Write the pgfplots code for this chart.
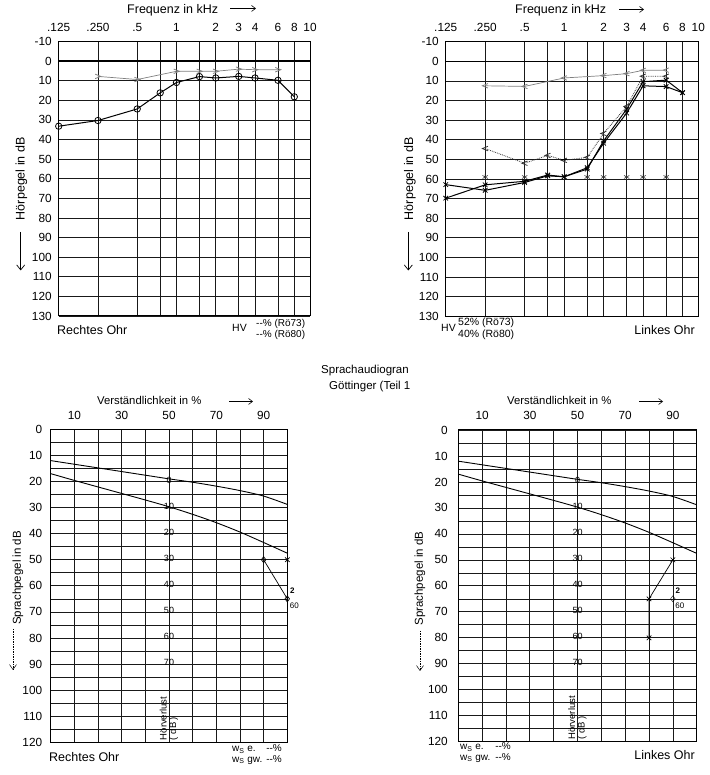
\documentclass[border=0pt]{standalone}
\usepackage{pgfplots}
\pgfplotsset{compat=1.18}
\usepackage{fontspec}
\setmainfont{Liberation Sans}
\usetikzlibrary{arrows.meta}
\newcommand\fs[1]{\fontsize{#1}{#1}\selectfont}

\pgfdeclareplotmark{gt}{%
  \pgfpathmoveto{\pgfqpoint{-\pgfplotmarksize}{0.8\pgfplotmarksize}}%
  \pgfpathlineto{\pgfqpoint{\pgfplotmarksize}{0pt}}%
  \pgfpathlineto{\pgfqpoint{-\pgfplotmarksize}{-0.8\pgfplotmarksize}}%
  \pgfusepathqstroke}
\pgfdeclareplotmark{lt}{%
  \pgfpathmoveto{\pgfqpoint{\pgfplotmarksize}{0.8\pgfplotmarksize}}%
  \pgfpathlineto{\pgfqpoint{-\pgfplotmarksize}{0pt}}%
  \pgfpathlineto{\pgfqpoint{\pgfplotmarksize}{-0.8\pgfplotmarksize}}%
  \pgfusepathqstroke}

\tikzset{hl/.style={font=\fs{9}, inner sep=0pt}}

\pgfplotsset{
  audio/.style={scale only axis, height=274.5pt,
    xmin=0, xmax=6.4, ymin=-10, ymax=130, y dir=reverse,
    xtick={0,1,2,2.585,3,3.585,4,4.585,5,5.585,6,6.4},
    xticklabels={.125,.250,.5,{},1,{},2,3,4,6,8,10},
    xticklabel pos=upper,
    ytick={-10,0,...,130},
    yticklabels={-10,0,10,20,30,40,50,60,70,80,90,100,110,120,130},
    grid=major, major grid style={black!90, line width=0.8pt},
    axis line style={line width=1pt},
    major tick length=0pt, minor tick length=0pt,
    tick label style={font=\fs{11.8}},
    xticklabel shift=6.5pt, yticklabel shift=3.5pt,
    clip=false},
  speech/.style={scale only axis,
    xmin=0, xmax=100, ymin=0, ymax=120, y dir=reverse,
    xtick={0,10,...,100},
    xticklabels={{},10,{},30,{},50,{},70,{},90,{}},
    xticklabel pos=upper,
    ytick={0,10,...,120},
    yticklabels={0,10,20,30,40,50,60,70,80,90,100,110,120},
    minor ytick={5,15,...,115},
    grid=both, major grid style={black!90, line width=0.7pt},
    minor grid style={black!90, line width=0.65pt},
    axis line style={line width=1pt},
    major tick length=0pt, minor tick length=0pt,
    tick label style={font=\fs{11.8}},
    xticklabel shift=6.5pt,
    clip=false},
}

\begin{document}
\begin{tikzpicture}
\useasboundingbox (0pt,0pt) rectangle (709pt,775pt);

% ---------------- top left: Rechtes Ohr ----------------
\begin{axis}[audio, at={(58.7pt,733.5pt)}, anchor=north west, width=251.3pt]
\addplot[line width=1.4pt, forget plot] coordinates {(0,0) (6.4,0)};
\addplot[black!50, line width=0.7pt, mark=gt, mark size=2.8pt, mark options={solid, line width=0.8pt}]
  coordinates {(1,7.8) (2,9.4) (3,5.2) (3.585,5.2) (4,5.2) (4.585,4.1) (5,4.4) (5.585,4.4)};
\addplot[black, line width=1pt, mark=o, mark size=3.2pt, mark options={line width=0.8pt}]
  coordinates {(0,33.2) (1,30.3) (2,24.4) (2.585,16.2) (3,10.9) (3.585,7.9) (4,8.6) (4.585,7.8) (5,8.6) (5.585,9.8) (6,18.2)};
\end{axis}

% ---------------- top right: Linkes Ohr ----------------
\begin{axis}[audio, at={(445.7pt,733.3pt)}, anchor=north west, width=252.6pt]
\addplot[line width=1.4pt, forget plot] coordinates {(0,0) (6.4,0)};
\addplot[black!50, line width=0.7pt, mark=lt, mark size=2.8pt, mark options={solid, line width=0.8pt}]
  coordinates {(1,12.5) (2,12.8) (3,8.5) (4,7.3) (4.585,6.3) (5,4.6) (5.585,4.5)};
\addplot[black!80, line width=0.8pt, densely dotted, mark=lt, mark size=2.8pt, mark options={solid, line width=0.8pt}]
  coordinates {(1,44.5) (2,52) (2.585,48) (3,50.5) (3.585,49) (4,36.8) (4.585,23) (5,7.6) (5.585,7.6)};
\addplot[black, line width=1pt, mark=x, mark size=3.2pt, mark options={line width=0.8pt}]
  coordinates {(0,62.9) (1,65.8) (2,61.8) (2.585,58.4) (3,58.9) (3.585,54.3) (4,41.8) (4.585,26.4) (5,12.5) (5.585,12.9) (6,16)};
\addplot[black, line width=1pt, mark=x, mark size=3.2pt, mark options={line width=0.8pt}]
  coordinates {(0,69.8) (1,63) (2,61.2) (2.585,58) (3,58.9) (3.585,55) (4,40.6) (4.585,24.4) (5,10.4) (5.585,9.6) (6,16)};
\addplot[only marks, black!80, mark=asterisk, mark size=3pt, mark options={line width=0.6pt}]
  coordinates {(1,59) (2,59) (3.585,59) (4,59) (4.585,59) (5,59) (5.585,59)};
\addplot[only marks, black, mark=-, mark size=3pt, mark options={line width=1pt}]
  coordinates {(3,50) (4,50)};
\end{axis}

% ---------------- bottom left ----------------
\begin{axis}[speech, at={(50.7pt,345.7pt)}, anchor=north west, width=236.6pt, height=313pt,
  yticklabel shift=5pt]
\addplot[black, line width=0.9pt, smooth] coordinates {(0,12) (10,13.4) (20,14.8) (30,16.2) (40,17.6) (50,19) (60,20.3) (70,21.8) (80,23.5) (90,25.6) (100,28.8)};
\addplot[black, line width=0.9pt, smooth] coordinates {(0,17) (10,19.6) (20,22.1) (30,24.6) (40,27.1) (50,29.7) (60,32.6) (70,35.8) (80,39.4) (90,43.4) (100,47.5)};
\addplot[black, line width=0.7pt, mark=diamond, mark size=3pt] coordinates {(90,50) (100,65)};
\addplot[only marks, black, mark=x, mark size=3.2pt, mark options={line width=0.7pt}] coordinates {(100,50)};
\node[hl] at (axis cs:50,19.5) {0};
\node[hl] at (axis cs:50,29.5) {10};
\node[hl] at (axis cs:50,39.5) {20};
\node[hl] at (axis cs:50,49.5) {30};
\node[hl] at (axis cs:50,59.5) {40};
\node[hl] at (axis cs:50,69.5) {50};
\node[hl] at (axis cs:50,79.5) {60};
\node[hl] at (axis cs:50,89.5) {70};
\node[font=\fs{8}\bfseries, inner sep=0pt, xshift=5pt, yshift=8pt] at (axis cs:100,65) {2};
\node[font=\fs{8}, inner sep=0pt, xshift=7pt, yshift=-7pt] at (axis cs:100,65) {60};
\node[font=\fs{9.5}, rotate=90, anchor=west, align=left, inner sep=1pt] at (axis cs:50,119.6) {Hörverlust\\( dB )};
\end{axis}

% ---------------- bottom right ----------------
\begin{axis}[speech, at={(458.3pt,345pt)}, anchor=north west, width=238.4pt, height=311.7pt,
  yticklabel shift=7pt]
\addplot[black, line width=0.9pt, smooth] coordinates {(0,12) (10,13.4) (20,14.8) (30,16.2) (40,17.6) (50,19) (60,20.3) (70,21.8) (80,23.5) (90,25.6) (100,28.8)};
\addplot[black, line width=0.9pt, smooth] coordinates {(0,17) (10,19.6) (20,22.1) (30,24.6) (40,27.1) (50,29.7) (60,32.6) (70,35.8) (80,39.4) (90,43.4) (100,47.5)};
\addplot[black, line width=0.7pt, mark=x, mark size=3.2pt, mark options={line width=0.7pt}] coordinates {(90,50) (80,65) (80,80)};
\addplot[only marks, black, mark=diamond, mark size=3pt] coordinates {(90,65)};
\node[hl] at (axis cs:50,19.5) {0};
\node[hl] at (axis cs:50,29.5) {10};
\node[hl] at (axis cs:50,39.5) {20};
\node[hl] at (axis cs:50,49.5) {30};
\node[hl] at (axis cs:50,59.5) {40};
\node[hl] at (axis cs:50,69.5) {50};
\node[hl] at (axis cs:50,79.5) {60};
\node[hl] at (axis cs:50,89.5) {70};
\node[font=\fs{8}\bfseries, inner sep=0pt, xshift=5pt, yshift=8pt] at (axis cs:90,65) {2};
\node[font=\fs{8}, inner sep=0pt, xshift=7pt, yshift=-7pt] at (axis cs:90,65) {60};
\node[font=\fs{9.5}, rotate=90, anchor=west, align=left, inner sep=1pt] at (axis cs:50,119.6) {Hörverlust\\( dB )};
\end{axis}

% ---------------- text outside the axes ----------------
\node[font=\fs{12.5}, anchor=base west, inner sep=0pt] at (127pt,761.7pt) {Frequenz in kHz};
\draw[line width=0.6pt, -{Straight Barb[length=4pt,width=6pt]}] (230pt,766.5pt) -- (256pt,766.5pt);
\node[font=\fs{12.5}, anchor=base west, inner sep=0pt] at (515pt,761.2pt) {Frequenz in kHz};
\draw[line width=0.6pt, -{Straight Barb[length=4pt,width=6pt]}] (619pt,765.5pt) -- (644pt,765.5pt);

\node[font=\fs{12.5}, rotate=90] at (21.5pt,596.3pt) {Hörpegel in dB};
\draw[line width=0.7pt, -{Straight Barb[length=5pt,width=8pt]}] (20.7pt,543pt) -- (20.7pt,504.5pt);
\node[font=\fs{12.5}, rotate=90] at (410pt,596.3pt) {Hörpegel in dB};
\draw[line width=0.7pt, -{Straight Barb[length=5pt,width=8pt]}] (408.3pt,543pt) -- (408.3pt,504.5pt);

\node[font=\fs{12.5}, anchor=base west, inner sep=0pt] at (57pt,440pt) {Rechtes Ohr};
\node[font=\fs{10.5}, anchor=base west, inner sep=0pt] at (232pt,443.3pt) {HV};
\node[font=\fs{10}, anchor=base west, inner sep=0pt] at (256pt,448.3pt) {{-}{-}\% (Rö73)};
\node[font=\fs{10}, anchor=base west, inner sep=0pt] at (256pt,437.7pt) {{-}{-}\% (Rö80)};
\node[font=\fs{10.5}, anchor=base west, inner sep=0pt] at (441pt,443.3pt) {HV};
\node[font=\fs{10.5}, anchor=base west, inner sep=0pt] at (458pt,449.3pt) {52\% (Rö73)};
\node[font=\fs{10.5}, anchor=base west, inner sep=0pt] at (458pt,437.7pt) {40\% (Rö80)};
\node[font=\fs{12.5}, anchor=base east, inner sep=0pt] at (695pt,440pt) {Linkes Ohr};

\node[font=\fs{11.5}, anchor=base west, inner sep=0pt] at (321pt,401pt) {Sprachaudiogran};
\node[font=\fs{11.5}, anchor=base west, inner sep=0pt] at (329pt,385.5pt) {Göttinger (Teil 1};

\node[font=\fs{11.3}, anchor=base west, inner sep=0pt] at (97pt,370pt) {Verständlichkeit in \%};
\draw[line width=0.6pt, -{Straight Barb[length=4pt,width=6pt]}] (229pt,373.5pt) -- (253pt,373.5pt);
\node[font=\fs{11.3}, anchor=base west, inner sep=0pt] at (507pt,370pt) {Verständlichkeit in \%};
\draw[line width=0.6pt, -{Straight Barb[length=4pt,width=6pt]}] (639pt,373.5pt) -- (663pt,373.5pt);

\node[font=\fs{11.5}, rotate=90] at (18pt,197pt) {Sprachpegel in dB};
\draw[line width=0.5pt, dash pattern=on 1.5pt off 1pt, -{Straight Barb[length=5pt,width=7pt]}] (13pt,146pt) -- (13pt,105pt);
\node[font=\fs{11.5}, rotate=90] at (420pt,196.5pt) {Sprachpegel in dB};
\draw[line width=0.5pt, dash pattern=on 1.5pt off 1pt, -{Straight Barb[length=5pt,width=7pt]}] (420pt,144pt) -- (420pt,104pt);

\node[font=\fs{12.5}, anchor=base west, inner sep=0pt] at (49pt,13pt) {Rechtes Ohr};
\node[font=\fs{10}, anchor=base west, inner sep=0pt] at (232pt,23pt) {w\textsubscript{S} e.};
\node[font=\fs{10}, anchor=base east, inner sep=0pt] at (282pt,23pt) {{-}{-}\%};
\node[font=\fs{10}, anchor=base west, inner sep=0pt] at (232pt,12.5pt) {w\textsubscript{S} gw.};
\node[font=\fs{10}, anchor=base east, inner sep=0pt] at (282pt,12.5pt) {{-}{-}\%};
\node[font=\fs{10}, anchor=base west, inner sep=0pt] at (460pt,25pt) {w\textsubscript{S} e.};
\node[font=\fs{10}, anchor=base east, inner sep=0pt] at (511pt,25pt) {{-}{-}\%};
\node[font=\fs{10}, anchor=base west, inner sep=0pt] at (460pt,14.5pt) {w\textsubscript{S} gw.};
\node[font=\fs{10}, anchor=base east, inner sep=0pt] at (511pt,14.5pt) {{-}{-}\%};
\node[font=\fs{12.5}, anchor=base east, inner sep=0pt] at (695pt,15pt) {Linkes Ohr};
\end{tikzpicture}
\end{document}
